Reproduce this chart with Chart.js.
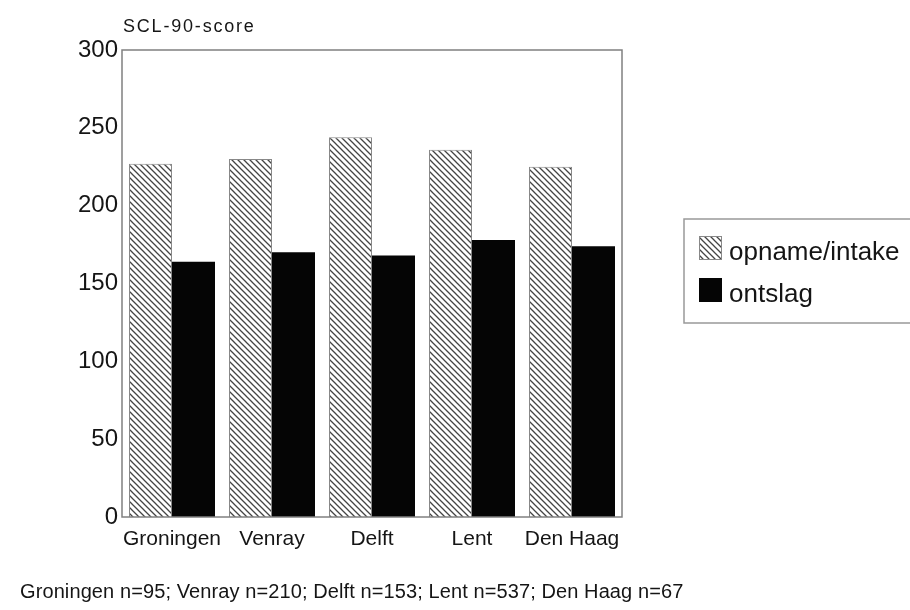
<!DOCTYPE html>
<html>
<head>
<meta charset="utf-8">
<script src="https://cdn.jsdelivr.net/npm/chart.js@4"></script>
<style>
html,body{margin:0;padding:0;background:#fff;}
#wrap{width:910px;height:610px;}
</style>
</head>
<body>
<div id="wrap"><canvas id="c" width="910" height="610"></canvas></div>
<script>
const categories = ["Groningen", "Venray", "Delft", "Lent", "Den Haag"];
const intakeValues = [227, 230, 244, 236, 225];
const ontslagValues = [164, 170, 168, 178, 174];
const seriesLabels = ["opname/intake", "ontslag"];
const yTicks = [0, 50, 100, 150, 200, 250, 300];
const yTitle = "SCL-90-score";
const footnote = "Groningen n=95; Venray n=210; Delft n=153; Lent n=537; Den Haag n=67";

const FONT = '"Liberation Sans", Arial, Helvetica, sans-serif';
const TEXT = '#151515';

function hatch() {
  const s = 6;
  const p = document.createElement('canvas');
  p.width = s; p.height = s;
  const g = p.getContext('2d');
  g.fillStyle = '#fff';
  g.fillRect(0, 0, s, s);
  g.strokeStyle = '#444';
  g.lineWidth = 1.3;
  g.beginPath();
  g.moveTo(-1, -1); g.lineTo(s + 1, s + 1);
  g.moveTo(-1, s - 1); g.lineTo(1, s + 1);
  g.moveTo(s - 1, -1); g.lineTo(s + 1, 1);
  g.stroke();
  return document.getElementById('c').getContext('2d').createPattern(p, 'repeat');
}
const hatchPattern = hatch();

const decor = {
  id: 'decor',
  afterDatasetsDraw(chart) {
    const ctx = chart.ctx;
    const a = chart.chartArea;
    ctx.save();
    // frame
    ctx.strokeStyle = '#808080';
    ctx.lineWidth = 1.5;
    ctx.strokeRect(a.left, a.top, a.right - a.left, a.bottom - a.top);
    // title
    ctx.fillStyle = TEXT;
    ctx.font = '18px ' + FONT;
    ctx.letterSpacing = '1.8px';
    ctx.textBaseline = 'alphabetic';
    ctx.textAlign = 'left';
    ctx.fillText(yTitle, 123, 32);
    // footnote
    ctx.letterSpacing = '0.1px';
    ctx.font = '20px ' + FONT;
    ctx.fillText(footnote, 20, 598);
    ctx.letterSpacing = '0px';
    // legend
    const lx = 684, ly = 219, lw = 240, lh = 104;
    ctx.strokeStyle = '#999';
    ctx.lineWidth = 1.5;
    ctx.strokeRect(lx, ly, lw, lh);
    const ds = chart.data.datasets;
    const rows = [{y: 236}, {y: 278}];
    ds.forEach((d, i) => {
      const r = rows[i];
      ctx.fillStyle = d.backgroundColor;
      ctx.fillRect(699, r.y, 23, 24);
      if (i === 0) {
        ctx.strokeStyle = '#888';
        ctx.lineWidth = 1;
        ctx.strokeRect(699.5, r.y + 0.5, 22, 23);
      }
      ctx.fillStyle = TEXT;
      ctx.font = '26px ' + FONT;
      ctx.fillText(d.label, 729, r.y + 24);
    });
    ctx.restore();
  }
};

new Chart(document.getElementById('c'), {
  type: 'bar',
  data: {
    labels: categories,
    datasets: [
      {
        label: seriesLabels[0],
        data: intakeValues,
        backgroundColor: hatchPattern,
        borderColor: '#888',
        borderWidth: 1,
        borderSkipped: 'bottom'
      },
      {
        label: seriesLabels[1],
        data: ontslagValues,
        backgroundColor: '#050505',
        borderWidth: 0
      }
    ]
  },
  options: {
    responsive: false,
    animation: false,
    devicePixelRatio: 1,
    layout: { padding: { top: 50, right: 288, bottom: 0, left: 0 } },
    datasets: { bar: { categoryPercentage: 0.86, barPercentage: 1 } },
    plugins: { legend: { display: false }, title: { display: false }, tooltip: { enabled: false } },
    scales: {
      x: {
        grid: { display: false, drawTicks: false },
        border: { display: false },
        ticks: { color: TEXT, font: { family: FONT, size: 21 }, padding: 10, maxRotation: 0, autoSkip: false },
        afterFit(s) { s.height = 93; }
      },
      y: {
        min: 0, max: 300,
        grid: { display: false, drawTicks: false },
        border: { display: false },
        afterBuildTicks(s) { s.ticks = yTicks.map(v => ({ value: v })); },
        ticks: { color: TEXT, font: { family: FONT, size: 24 }, padding: 4 },
        afterFit(s) { s.width = 122; }
      }
    }
  },
  plugins: [decor]
});
</script>
</body>
</html>
